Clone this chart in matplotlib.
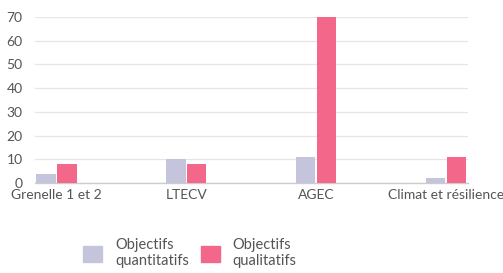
import matplotlib
matplotlib.use("Agg")
import matplotlib.pyplot as plt
import numpy as np
from matplotlib.patches import Patch

categories = ["Grenelle 1 et 2", "LTECV", "AGEC", "Climat et résilience"]
quantitatifs = [4, 10, 11, 2]
qualitatifs = [8, 8, 70, 11]
series_names = ["Objectifs\nquantitatifs", "Objectifs\nqualitatifs"]
yticks = [0, 10, 20, 30, 40, 50, 60, 70]

plt.rcParams['font.family'] = ['Lato', 'DejaVu Sans']
grey = "#c4c5dc"
pink = "#f3678a"
text_c = "#555555"

fig = plt.figure(figsize=(5.03, 2.73), dpi=100)
ax = fig.add_axes([35/503, 90/273, 433/503, 166/273])
x = np.arange(len(categories))
w = 0.15
ax.bar(x - 0.08, quantitatifs, w, color=grey, zorder=3)
ax.bar(x + 0.08, qualitatifs, w, color=pink, zorder=3)
ax.set_xlim(-0.165, 3.17)
ax.set_ylim(0, 70)
ax.set_yticks(yticks)
ax.yaxis.grid(True, color="#e6e6e6", linewidth=0.9, zorder=0)
ax.set_xticks(x)
ax.set_xticklabels(categories)
for s in ["top", "right", "left"]:
    ax.spines[s].set_visible(False)
ax.spines["bottom"].set_color("#cccccc")
ax.spines["bottom"].set_linewidth(1.0)
ax.tick_params(axis="y", length=0, labelsize=10, colors=text_c, pad=9)
ax.tick_params(axis="x", length=0, labelsize=10, colors=text_c, pad=4)

handles = [Patch(color=grey), Patch(color=pink)]
fig.legend(handles, series_names, loc="upper left", bbox_to_anchor=(70/503, 1 - 225/273),
           ncol=2, frameon=False, fontsize=10.5, handlelength=1.3, handleheight=1.3,
           columnspacing=0.8, handletextpad=0.9, labelcolor=text_c)

fig.savefig("out.png", dpi=100)
